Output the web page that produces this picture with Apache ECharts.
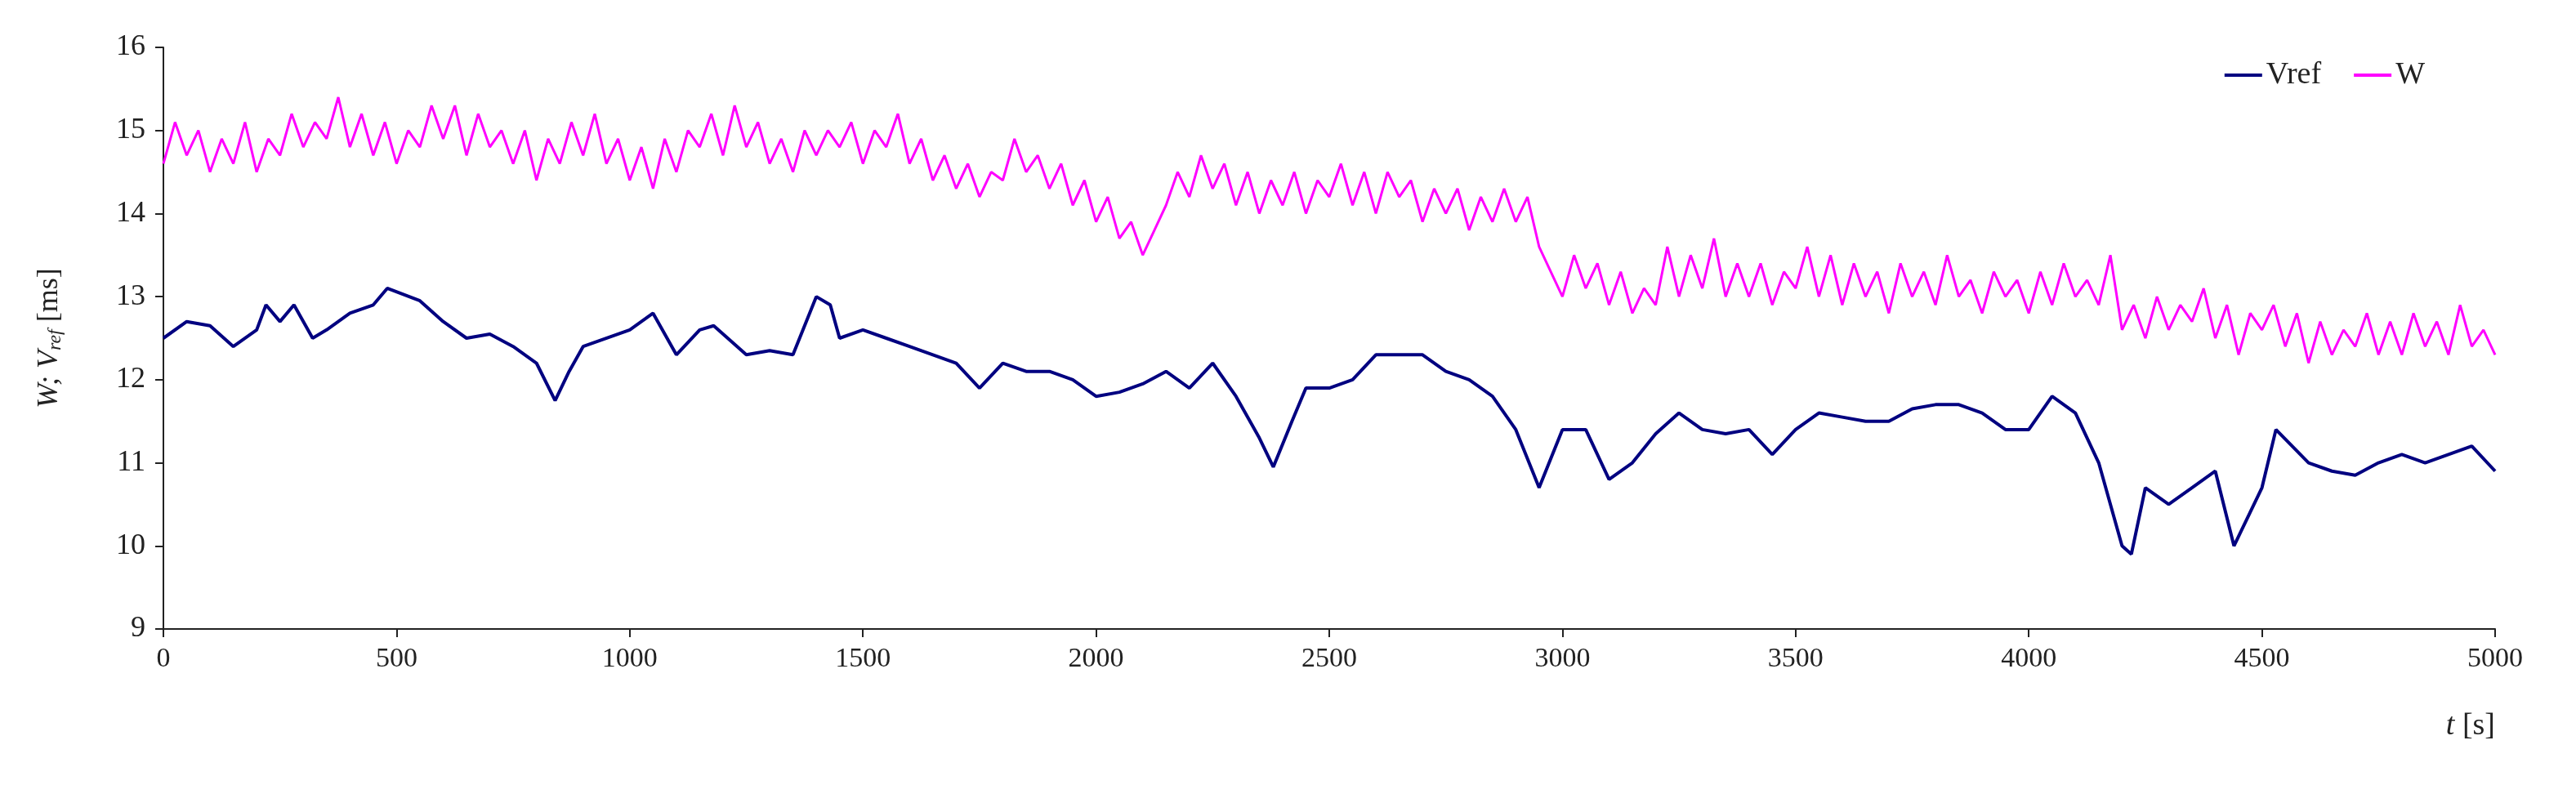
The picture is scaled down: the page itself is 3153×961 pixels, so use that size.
<!DOCTYPE html>
<html>
<head>
<meta charset="UTF-8">
<script src="https://cdn.jsdelivr.net/npm/echarts@6/dist/echarts.min.js"></script>
<style>html,body{margin:0;padding:0;background:#fff}#chart{width:3153px;height:961px}</style>
</head>
<body>
<div id="chart"></div>
<script>
// Vref: [t, value] readings
var vrefT = [0,50,100,150,200,220,250,280,320,350,400,450,480,550,600,650,700,750,800,840,870,900,1000,1050,1100,1150,1180,1250,1300,1350,1400,1430,1450,1500,1550,1600,1650,1700,1750,1800,1850,1900,1950,2000,2050,2100,2150,2200,2250,2300,2350,2380,2420,2450,2500,2550,2600,2650,2700,2750,2800,2850,2900,2950,3000,3050,3100,3150,3200,3250,3300,3350,3400,3450,3500,3550,3600,3650,3700,3750,3800,3850,3900,3950,4000,4050,4100,4150,4200,4220,4250,4300,4350,4400,4440,4500,4530,4600,4650,4700,4750,4800,4850,4900,4950,5000];
var vrefV = [12.5,12.7,12.65,12.4,12.6,12.9,12.7,12.9,12.5,12.6,12.8,12.9,13.1,12.95,12.7,12.5,12.55,12.4,12.2,11.75,12.1,12.4,12.6,12.8,12.3,12.6,12.65,12.3,12.35,12.3,13.0,12.9,12.5,12.6,12.5,12.4,12.3,12.2,11.9,12.2,12.1,12.1,12.0,11.8,11.85,11.95,12.1,11.9,12.2,11.8,11.3,10.95,11.5,11.9,11.9,12.0,12.3,12.3,12.3,12.1,12.0,11.8,11.4,10.7,11.4,11.4,10.8,11.0,11.35,11.6,11.4,11.35,11.4,11.1,11.4,11.6,11.55,11.5,11.5,11.65,11.7,11.7,11.6,11.4,11.4,11.8,11.6,11.0,10.0,9.9,10.7,10.5,10.7,10.9,10.0,10.7,11.4,11.0,10.9,10.85,11.0,11.1,11.0,11.1,11.2,10.9];

// W: one reading every 25 s
var wStep = 25;
var wV = [
14.6,15.1,14.7,15.0,14.5,14.9,14.6,15.1,
14.5,14.9,14.7,15.2,14.8,15.1,14.9,15.4,
14.8,15.2,14.7,15.1,14.6,15.0,14.8,15.3,
14.9,15.3,14.7,15.2,14.8,15.0,14.6,15.0,
14.4,14.9,14.6,15.1,14.7,15.2,14.6,14.9,
14.4,14.8,14.3,14.9,14.5,15.0,14.8,15.2,
14.7,15.3,14.8,15.1,14.6,14.9,14.5,15.0,
14.7,15.0,14.8,15.1,14.6,15.0,14.8,15.2,
14.6,14.9,14.4,14.7,14.3,14.6,14.2,14.5,
14.4,14.9,14.5,14.7,14.3,14.6,14.1,14.4,
13.9,14.2,13.7,13.9,13.5,13.8,14.1,14.5,
14.2,14.7,14.3,14.6,14.1,14.5,14.0,14.4,
14.1,14.5,14.0,14.4,14.2,14.6,14.1,14.5,
14.0,14.5,14.2,14.4,13.9,14.3,14.0,14.3,
13.8,14.2,13.9,14.3,13.9,14.2,13.6,13.3,
13.0,13.5,13.1,13.4,12.9,13.3,12.8,13.1,
12.9,13.6,13.0,13.5,13.1,13.7,13.0,13.4,
13.0,13.4,12.9,13.3,13.1,13.6,13.0,13.5,
12.9,13.4,13.0,13.3,12.8,13.4,13.0,13.3,
12.9,13.5,13.0,13.2,12.8,13.3,13.0,13.2,
12.8,13.3,12.9,13.4,13.0,13.2,12.9,13.5,
12.6,12.9,12.5,13.0,12.6,12.9,12.7,13.1,
12.5,12.9,12.3,12.8,12.6,12.9,12.4,12.8,
12.2,12.7,12.3,12.6,12.4,12.8,12.3,12.7,
12.3,12.8,12.4,12.7,12.3,12.9,12.4,12.6,
12.3];

var vrefData = vrefT.map(function (t, i) { return [t, vrefV[i]]; });
var wData = wV.map(function (v, i) { return [i * wStep, v]; });

var font = 'Liberation Serif';
var myChart = echarts.init(document.getElementById('chart'));
var option = {
    animation: false,
    textStyle: { fontFamily: font, color: '#222' },
    grid: { left: 200, right: 99, top: 58, bottom: 191 },
    legend: {
        right: 180, top: 68, itemWidth: 46, itemHeight: 4, itemGap: 40,
        textStyle: { fontFamily: font, fontSize: 38, color: '#222' },
        data: [{ name: 'Vref', icon: 'rect' }, { name: 'W', icon: 'rect' }]
    },
    xAxis: {
        type: 'value', min: 0, max: 5000, interval: 500,
        name: '{i|t} [s]', nameLocation: 'end', nameGap: 0,
        nameTextStyle: {
            fontSize: 38, align: 'right', verticalAlign: 'top', padding: [100, 0, 0, 0],
            rich: { i: { fontStyle: 'italic', fontSize: 38, fontFamily: font } }
        },
        axisLine: { lineStyle: { color: '#222', width: 2 } },
        axisTick: { inside: false, length: 10, lineStyle: { color: '#222', width: 2 } },
        axisLabel: { fontSize: 34, margin: 20, color: '#222', formatter: function (v) { return String(v); } },
        splitLine: { show: false }
    },
    yAxis: {
        type: 'value', min: 9, max: 16, interval: 1,
        name: '{i|W; V}{s|ref} [ms]', nameLocation: 'middle', nameGap: 120, nameRotate: 90,
        nameTextStyle: {
            fontSize: 36,
            rich: {
                i: { fontStyle: 'italic', fontSize: 36, fontFamily: font },
                s: { fontStyle: 'italic', fontSize: 24, fontFamily: font, verticalAlign: 'bottom', padding: [14, 0, 0, 0] }
            }
        },
        axisLine: { show: true, lineStyle: { color: '#222', width: 2 } },
        axisTick: { show: true, length: 10, lineStyle: { color: '#222', width: 2 } },
        axisLabel: { fontSize: 36, margin: 22, color: '#222' },
        splitLine: { show: false }
    },
    series: [
        { name: 'Vref', type: 'line', data: vrefData, showSymbol: false, lineStyle: { color: '#000080', width: 4 }, itemStyle: { color: '#000080' } },
        { name: 'W', type: 'line', data: wData, showSymbol: false, lineStyle: { color: '#ff00ff', width: 3 }, itemStyle: { color: '#ff00ff' } }
    ]
};
myChart.setOption(option);
</script>
</body>
</html>
